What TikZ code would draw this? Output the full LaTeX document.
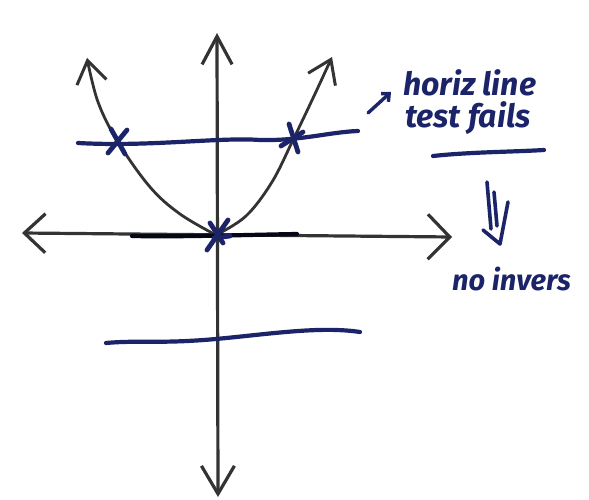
\documentclass[tikz,border=0pt]{standalone}
\usepackage{fontspec}
\setmainfont{Fira Sans}
\usetikzlibrary{arrows.meta}
\definecolor{ink}{HTML}{1B2468}
\definecolor{pencil}{HTML}{333333}
\tikzset{
  axis/.style={draw=pencil, line width=3.2pt, line cap=round},
  curve/.style={draw=pencil, line width=2.8pt, line cap=round, -{Straight Barb[length=22pt,width=30pt,line width=3pt]}},
  hline/.style={draw=ink, line width=4.2pt, line cap=round},
  xmark/.style={draw=ink, line width=4.8pt, line cap=round},
  hand/.style={text=ink, font=\bfseries\itshape, inner sep=0pt}
}
\begin{document}
\begin{tikzpicture}[x=1pt,y=-1pt]
\useasboundingbox[fill=white] (0,0) rectangle (589,500);
% axes
\coordinate (vt) at (217,33);
\coordinate (vb) at (218,497);
\coordinate (hl) at (22,233);
\coordinate (hr) at (452,237);
\coordinate (o) at (216,235);
\draw[axis, {Straight Barb[length=28pt,width=30pt,line width=3.2pt]}-{Straight Barb[length=28pt,width=33pt,line width=3.2pt]}] (vt) -- (vb);
\draw[axis, {Straight Barb[length=21pt,width=39pt,line width=3.2pt]}-{Straight Barb[length=22pt,width=45pt,line width=3.2pt]}] (hl) -- (hr);
% parabola
\draw[curve] plot[smooth, tension=0.6] coordinates {(216,235) (180,214) (150,187) (118,142) (98,102) (87,58)};
\draw[curve] plot[smooth, tension=0.6] coordinates {(216,235) (246,216) (272,182) (293,140) (314,96) (332,57)};
% horizontal test lines
\draw[hline] (78,143) .. controls (150,147) and (220,137) .. (260,140) .. controls (300,141) and (330,132) .. (358,131);
\draw[hline] (106,343) .. controls (140,340) and (160,344) .. (216,339) .. controls (270,334) and (320,326) .. (360,332);
\draw[draw=black!80!ink, line width=4.2pt, line cap=round] (132,236) .. controls (180,237) and (240,235) .. (297,234);
% crosses
\draw[xmark] (111,129) -- (125,154);
\draw[xmark] (108,153) -- (127,130);
\draw[xmark] (289,124) -- (298,152);
\draw[xmark] (281,146) -- (303,132);
\draw[xmark] (210,223) -- (223,243);
\draw[xmark] (207,250) -- (228,220);
\draw[xmark] (214,238) -- (230,236);
% annotation
\draw[draw=ink, line width=3.4pt, line cap=round, -{Straight Barb[length=6pt,width=11pt,line width=3.4pt]}] (368,113) -- (391,92);
\node[hand, font=\bfseries\itshape\fontsize{32}{32}\selectfont, anchor=base west] (t1) at (403,96) {horiz line};
\node[hand, font=\bfseries\itshape\fontsize{32}{32}\selectfont, anchor=base west] (t2) at (405,128) {test fails};
\draw[draw=ink, line width=4.2pt, line cap=round] (433,156) .. controls (470,152) and (510,152) .. (544,150);
% double arrow down
\draw[draw=ink, line width=3.6pt, line cap=round] (487,182) -- (491,229);
\draw[draw=ink, line width=3.6pt, line cap=round] (494,192) -- (497,226);
\draw[draw=ink, line width=3.6pt, line cap=round, line join=round] (483,230) -- (500,244) -- (508,202);
\node[hand, font=\bfseries\itshape\fontsize{29}{29}\selectfont, anchor=base west] (t3) at (452,290) {no invers};
\end{tikzpicture}
\end{document}
